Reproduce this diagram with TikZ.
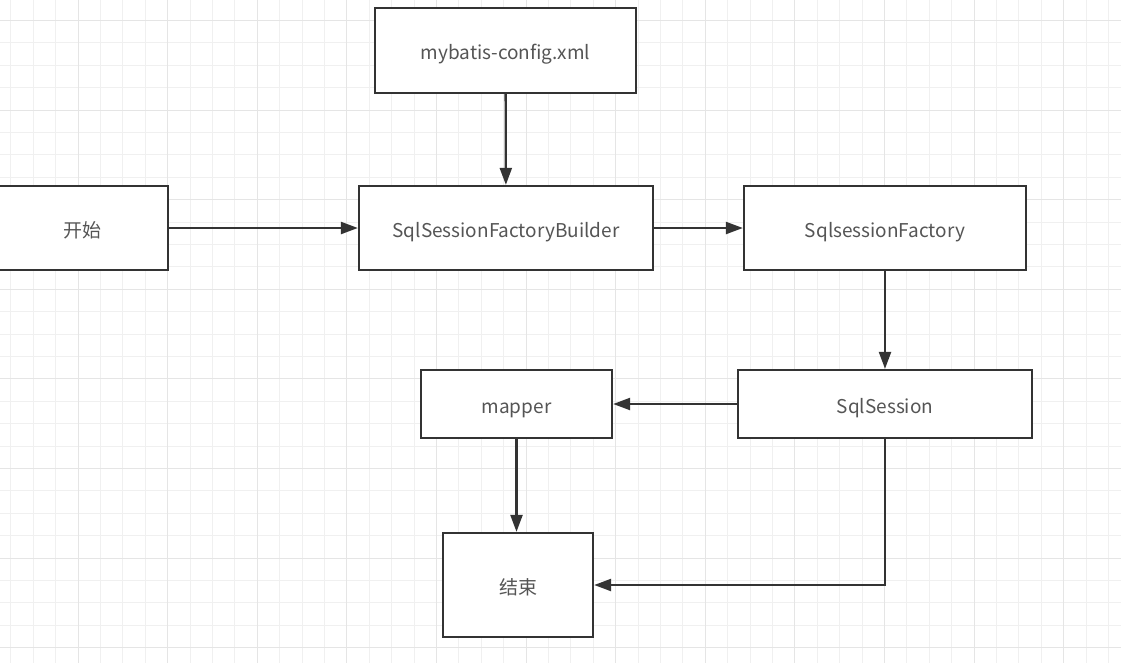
\documentclass[tikz,border=0pt]{standalone}
\usepackage{fontspec}
\setmainfont{Noto Sans CJK SC}
\usetikzlibrary{arrows.meta}

\definecolor{linecol}{HTML}{333333}
\definecolor{textcol}{HTML}{555555}

\tikzset{
	block/.style = { draw = linecol, line width = 2.3pt, fill = white, rectangle, inner sep = 0pt,
		text = textcol, font = \fontsize{19}{22}\selectfont, text height = 20pt, text depth = 2pt },
	flow/.style = { draw = linecol, line width = 2.3pt, -{Triangle[length=17pt,width=12pt]} },
	gridminor/.style = { draw = gray!12, line width = 1pt },
	gridmajor/.style = { draw = gray!20, line width = 1pt }
}

\begin{document}
\begin{tikzpicture}[x=1pt, y=-1pt]
		\clip ( 0, 0 ) rectangle ( 1121, 662 );
		\fill [white] ( 0, 0 ) rectangle ( 1121, 662 );

		% сетка фона
		\begin{scope}[shift={( -11.6, 20.4 )}]
			\draw [gridminor, step=22.4pt] ( -100, -100 ) grid ( 1200, 720 );
			\draw [gridmajor, step=89.6pt] ( -100, -100 ) grid ( 1200, 720 );
		\end{scope}

		% блоки
		\node [block, minimum width = 261pt, minimum height = 85pt] (config) at ( 505.5, 50.5 ) {mybatis-config.xml};
		\node [block, minimum width = 172pt, minimum height = 84pt] (start) at ( 82, 228 ) {开始};
		\node [block, minimum width = 294pt, minimum height = 84pt] (builder) at ( 506, 228 ) {SqlSessionFactoryBuilder};
		\node [block, minimum width = 282pt, minimum height = 84pt] (factory) at ( 885, 228 ) {SqlsessionFactory};
		\node [block, minimum width = 294pt, minimum height = 68pt] (session) at ( 885, 404 ) {SqlSession};
		\node [block, minimum width = 191pt, minimum height = 68pt] (mapper) at ( 516.5, 404 ) {mapper};
		\node [block, minimum width = 150pt, minimum height = 104pt] (finish) at ( 518, 585 ) {结束};

		% связи
		\draw [flow] (config) -- (builder);
		\draw [flow] (start) -- (builder);
		\draw [flow] (builder) -- (factory);
		\draw [flow] (factory) -- (session);
		\draw [flow] (session) -- (mapper);
		\draw [flow] (mapper.south) -- (mapper.south |- finish.north);
		\draw [flow] (session.south) |- (finish.east);
\end{tikzpicture}
\end{document}
